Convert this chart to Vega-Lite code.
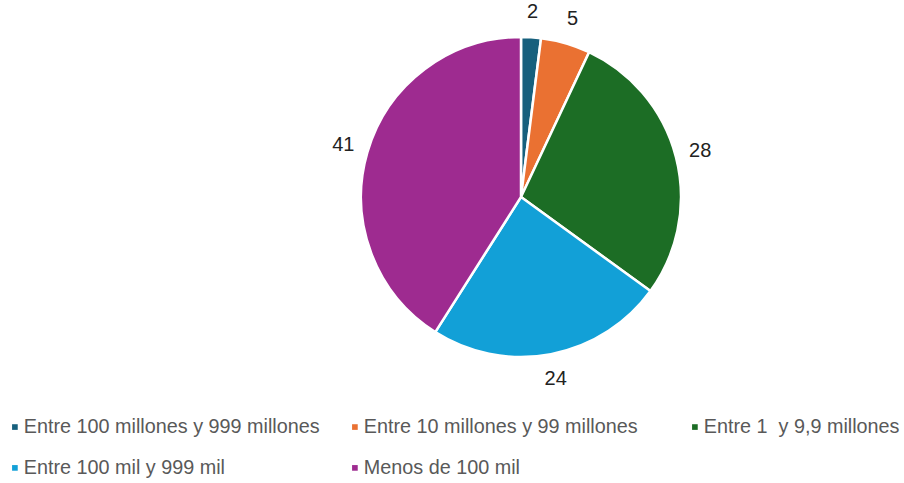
{
  "$schema": "https://vega.github.io/schema/vega-lite/v6.json",
  "width": 760,
  "height": 394,
  "autosize": {"type": "none"},
  "padding": {"left": 141, "top": 0, "right": 3, "bottom": 89},
  "background": "white",
  "config": {"view": {"stroke": null}, "font": "Liberation Sans"},
  "data": {
    "values": [
      {"cat": "Entre 100 millones y 999 millones", "v": 2, "o": 1},
      {"cat": "Entre 10 millones y 99 millones", "v": 5, "o": 2},
      {"cat": "Entre 1\u00a0 y 9,9 millones", "v": 28, "o": 3},
      {"cat": "Entre 100 mil y 999 mil", "v": 24, "o": 4},
      {"cat": "Menos de 100 mil", "v": 41, "o": 5}
    ]
  },
  "encoding": {
    "theta": {"field": "v", "type": "quantitative", "stack": true},
    "order": {"field": "o", "type": "quantitative"},
    "color": {
      "field": "cat",
      "type": "nominal",
      "scale": {
        "domain": ["Entre 100 millones y 999 millones", "Entre 10 millones y 99 millones", "Entre 1\u00a0 y 9,9 millones", "Entre 100 mil y 999 mil", "Menos de 100 mil"],
        "range": ["#17607D", "#EA7132", "#1C6D25", "#12A0D7", "#9E2B90"]
      },
      "legend": {
        "title": null,
        "orient": "none",
        "legendX": -136,
        "legendY": 417,
        "direction": "horizontal",
        "columns": 3,
        "gridAlign": "all",
        "columnPadding": 25,
        "rowPadding": 20,
        "symbolType": "square",
        "symbolSize": 32,
        "symbolStrokeWidth": 0,
        "labelFontSize": 19.8,
        "labelFont": "Liberation Sans",
        "labelColor": "#595959",
        "labelLimit": 400,
        "labelOffset": -1
      }
    }
  },
  "layer": [
    {
      "mark": {"type": "arc", "outerRadius": 160, "stroke": "white", "strokeWidth": 2.5}
    },
    {
      "mark": {"type": "text", "radius": 185, "fontSize": 20, "font": "Liberation Sans", "color": "#222222"},
      "encoding": {"text": {"field": "v", "type": "quantitative"}, "color": {"value": "#222222"}}
    }
  ]
}
